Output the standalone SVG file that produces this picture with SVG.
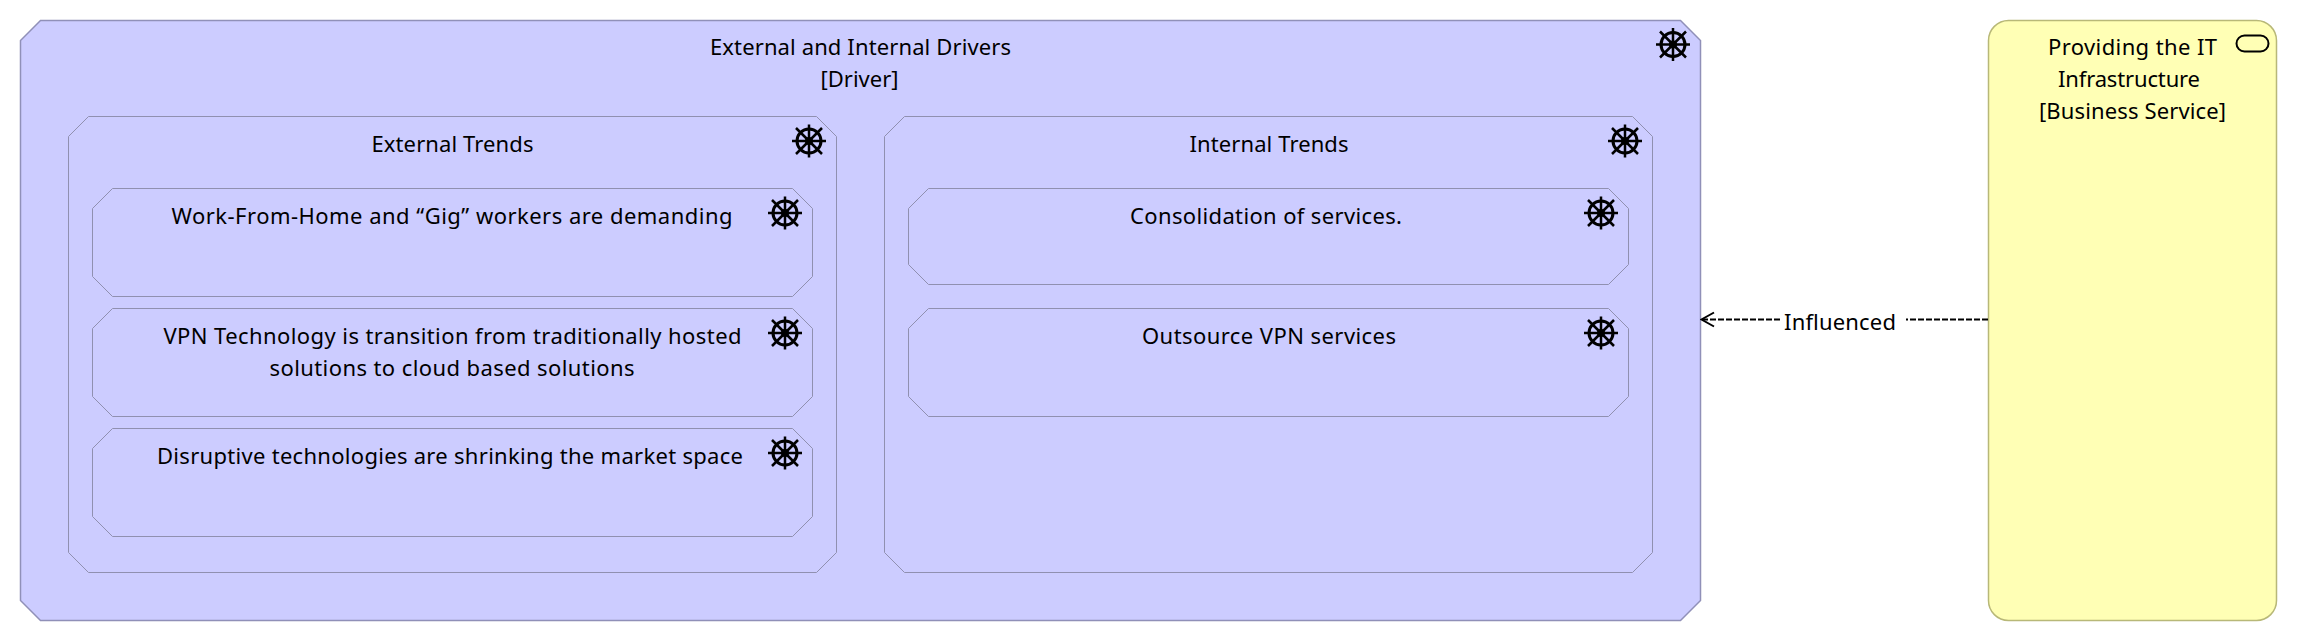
<svg xmlns="http://www.w3.org/2000/svg" width="2298" height="642" viewBox="0 0 2298 642">
<style>
.d{fill:#ccccff;stroke:#9090b8;stroke-width:1.5}
.i{fill:#ccccff;stroke:#9090b0;stroke-width:1}
.s{fill:#ffffb5;stroke:#b8b878;stroke-width:1.5}
text{font-family:"Noto Sans","Open Sans",sans-serif;font-size:22px;fill:#000;text-anchor:middle}
.w circle,.w path{fill:none;stroke:#000}
.w circle{stroke-width:3}
.w path{stroke-width:2.5}
.w .h{fill:#000;stroke:none}
</style>
<defs>
<g id="wheel" class="w"><circle r="12"/><path d="M-17 0H17M0-16.500V16.500M-13-13L13 13M-13 13L13-13"/><circle class="h" r="4"/></g>
<marker id="open" markerWidth="16" markerHeight="18" refX="15" refY="9" orient="auto" markerUnits="userSpaceOnUse"><path d="M2 2L14.500 9L2 16" fill="none" stroke="#000" stroke-width="2"/></marker>
</defs>
<rect width="2298" height="642" fill="#fff"/>
<g id="n-drivers"><path class="d" d="M40.500 20.500H1680.500L1700.500 40.500V600.500L1680.500 620.500H40.500L20.500 600.500V40.500Z"/><text x="860.500" y="55" textLength="301">External and Internal Drivers</text><text x="859.500" y="87" textLength="78">[Driver]</text><use href="#wheel" x="1673" y="44.500"/></g>
<g id="n-external"><path class="i" d="M88.500 116.500H816.500L836.500 136.500V552.500L816.500 572.500H88.500L68.500 552.500V136.500Z"/><text x="452.500" y="152" textLength="162">External Trends</text><use href="#wheel" x="809" y="141"/></g>
<g id="n-internal"><path class="i" d="M904.500 116.500H1632.500L1652.500 136.500V552.500L1632.500 572.500H904.500L884.500 552.500V136.500Z"/><text x="1269" y="152" textLength="159">Internal Trends</text><use href="#wheel" x="1625" y="141"/></g>
<g id="n-wfh"><path class="i" d="M112.500 188.500H792.500L812.500 208.500V276.500L792.500 296.500H112.500L92.500 276.500V208.500Z"/><text x="452" y="224" textLength="561">Work-From-Home and “Gig” workers are demanding</text><use href="#wheel" x="785" y="213"/></g>
<g id="n-vpn"><path class="i" d="M112.500 308.500H792.500L812.500 328.500V396.500L792.500 416.500H112.500L92.500 396.500V328.500Z"/><text x="452.500" y="344" textLength="578">VPN Technology is transition from traditionally hosted</text><text x="452" y="376" textLength="365">solutions to cloud based solutions</text><use href="#wheel" x="785" y="333"/></g>
<g id="n-disrupt"><path class="i" d="M112.500 428.500H792.500L812.500 448.500V516.500L792.500 536.500H112.500L92.500 516.500V448.500Z"/><text x="450" y="464" textLength="586">Disruptive technologies are shrinking the market space</text><use href="#wheel" x="785" y="453"/></g>
<g id="n-consol"><path class="i" d="M928.500 188.500H1608.500L1628.500 208.500V264.500L1608.500 284.500H928.500L908.500 264.500V208.500Z"/><text x="1266" y="224" textLength="272">Consolidation of services.</text><use href="#wheel" x="1601" y="213"/></g>
<g id="n-outsource"><path class="i" d="M928.500 308.500H1608.500L1628.500 328.500V396.500L1608.500 416.500H928.500L908.500 396.500V328.500Z"/><text x="1269" y="344" textLength="254">Outsource VPN services</text><use href="#wheel" x="1601" y="333"/></g>
<g id="n-service"><rect class="s" x="1988.500" y="20.500" width="288" height="600" rx="20"/><text x="2132.500" y="55" textLength="169">Providing the IT</text><text x="2129" y="87" textLength="142">Infrastructure</text><text x="2132.500" y="119" textLength="187">[Business Service]</text><rect x="2236.500" y="35.500" width="32" height="16" rx="8" fill="none" stroke="#000" stroke-width="2"/></g>
<g id="connectors"><path d="M1988 319.500H1701" fill="none" stroke="#000" stroke-width="2" stroke-dasharray="6 2" marker-end="url(#open)"/><rect x="1781" y="305" width="125" height="30" fill="#fff"/><text x="1840" y="330" textLength="112">Influenced</text></g>
</svg>
